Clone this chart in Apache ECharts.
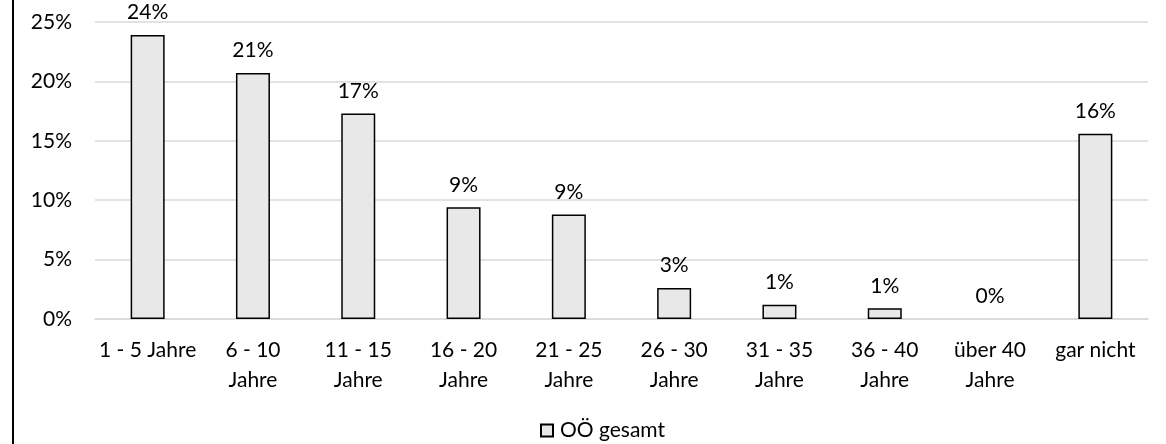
<!DOCTYPE html>
<html><head><meta charset="utf-8">
<script src="https://cdn.jsdelivr.net/npm/echarts@6/dist/echarts.min.js"></script>
<style>html,body{margin:0;padding:0;background:#fff}#c{width:1166px;height:444px}</style>
</head><body><div id="c"></div>
<script>
var categories = ['1 - 5 Jahre','6 - 10\nJahre','11 - 15\nJahre','16 - 20\nJahre','21 - 25\nJahre','26 - 30\nJahre','31 - 35\nJahre','36 - 40\nJahre','über 40\nJahre','gar nicht'];
var values = [23.9, 20.7, 17.3, 9.4, 8.8, 2.6, 1.2, 0.9, 0, 15.6];
var yTicks = [0, 5, 10, 15, 20, 25];
var seriesName = 'OÖ gesamt';
var FONT = 'Lato';
var FS = 21;
var barData = values.map(function(v){ return v === 0 ? {value: v, itemStyle: {borderWidth: 0}} : v; });
var chart = echarts.init(document.getElementById('c'));
chart.setOption({
  animation: false,
  textStyle: {fontFamily: FONT},
  grid: {left: 95, right: 18, top: 22, bottom: 125, containLabel: false},
  xAxis: {type: 'category', data: categories,
    axisLine: {lineStyle: {color: '#D9D9D9', width: 1.5}}, axisTick: {show: false},
    axisLabel: {color: '#000', fontSize: FS, fontFamily: FONT, lineHeight: 30, margin: 16, interval: 0}},
  yAxis: {type: 'value', min: 0, max: 25, interval: 5,
    axisLine: {show: false}, axisTick: {show: false},
    splitLine: {lineStyle: {color: '#D9D9D9', width: 1.5}},
    axisLabel: {color: '#000', fontSize: FS, fontFamily: FONT, margin: 23,
      formatter: function(v){ return yTicks.indexOf(v) >= 0 ? v + '%' : ''; }}},
  legend: {top: 415, left: 535, itemWidth: 12, itemHeight: 12, itemGap: 6,
    icon: 'rect', textStyle: {fontSize: FS, color: '#000', fontFamily: FONT, padding: [0,0,0,2]},
    data: [seriesName]},
  series: [{name: seriesName, type: 'bar', data: barData, barWidth: 34,
    itemStyle: {color: '#E9E8E8', borderColor: '#000', borderWidth: 1.5},
    label: {show: true, position: 'top', distance: 12, color: '#000', fontSize: FS, fontFamily: FONT,
      formatter: function(p){ return Math.round(p.value) + '%'; }}}],
  graphic: [{type: 'line', shape: {x1: 13, y1: 0, x2: 13, y2: 444}, style: {stroke: '#000', lineWidth: 2}}]
});
</script></body></html>
